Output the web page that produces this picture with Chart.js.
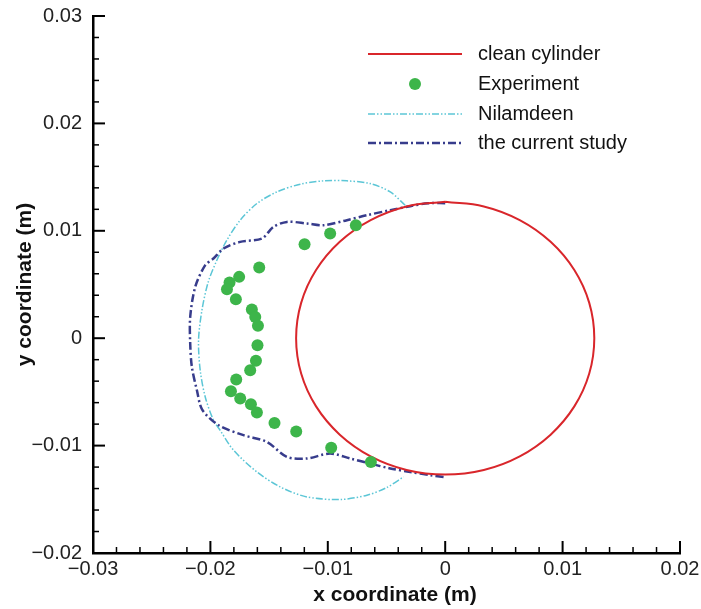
<!DOCTYPE html>
<html>
<head>
<meta charset="utf-8">
<script src="https://cdn.jsdelivr.net/npm/chart.js@4.4.0/dist/chart.umd.min.js"></script>
<style>
html,body{margin:0;padding:0;background:#fff}
#wrap{width:701px;height:609px}
</style>
</head>
<body>
<div id="wrap"><canvas id="chart" width="701" height="609"></canvas></div>
<script>
// axis ranges (m)
var xRange = [-0.03, 0.02]
var yRange = [-0.02, 0.03]

// clean cylinder outline, read every 15 deg starting at the top
var cylinderX = [0, -0.00329, -0.00635, -0.00898, -0.011, -0.01227, -0.0127, -0.01227, -0.011, -0.00898, -0.00635, -0.00329,
  0, 0.00329, 0.00635, 0.00898, 0.011, 0.01227, 0.0127, 0.01227, 0.011, 0.00898, 0.00635, 0.00329, 0]
var cylinderY = [0.0127, 0.01227, 0.011, 0.00898, 0.00635, 0.00329, 0, -0.00329, -0.00635, -0.00898, -0.011, -0.01227,
  -0.0127, -0.01227, -0.011, -0.00898, -0.00635, -0.00329, 0, 0.00329, 0.00635, 0.00898, 0.011, 0.01227, 0.0127]

// experiment ice shape
var experimentX = [-0.00761, -0.0098, -0.01198, -0.01584, -0.01755, -0.01837, -0.01859, -0.01783, -0.01647, -0.01618,
  -0.01595, -0.01599, -0.01612, -0.01661, -0.0178, -0.01825, -0.01746, -0.01655, -0.01604, -0.01454, -0.01269,
  -0.00971, -0.00633]
var experimentY = [0.01052, 0.00975, 0.00875, 0.00658, 0.00571, 0.00519, 0.00456, 0.00363, 0.00267, 0.00198,
  0.00115, -0.00065, -0.00209, -0.00298, -0.00385, -0.00493, -0.00561, -0.00615, -0.00692, -0.00789, -0.00869,
  -0.01021, -0.01152]

// Nilamdeen ice shape
var nilamdeenX = [-0.00341, -0.00468, -0.00639, -0.00837, -0.01037, -0.01235, -0.01434, -0.01604, -0.01746, -0.0186,
  -0.01945, -0.02019, -0.02072, -0.02101, -0.02087, -0.02044, -0.01974, -0.01917, -0.01803, -0.01604, -0.01405,
  -0.01178, -0.00894, -0.00667, -0.00497, -0.00355]
var nilamdeenY = [0.01238, 0.01362, 0.0144, 0.01465, 0.01465, 0.01434, 0.01362, 0.01254, 0.01099, 0.00912,
  0.00726, 0.00521, 0.00261, -0.00019, -0.00298, -0.00547, -0.00763, -0.00857, -0.01043, -0.01245, -0.01385,
  -0.01478, -0.01502, -0.01462, -0.0139, -0.01291]

// current study ice shape
var currentX = [0, -0.00145, -0.00298, -0.00468, -0.00667, -0.00837, -0.01037, -0.01178, -0.01348, -0.01463, -0.01561,
  -0.01746, -0.01888, -0.01974, -0.02044, -0.02129, -0.02172, -0.02172, -0.02158, -0.02115, -0.0207, -0.0193,
  -0.01718, -0.01519, -0.01348, -0.01178, -0.0098, -0.00809, -0.00639, -0.00468, -0.00298, -0.00128, 0]
var currentY = [0.01257, 0.01257, 0.01229, 0.01192, 0.01145, 0.01099, 0.01052, 0.01068, 0.01083, 0.01036, 0.00928,
  0.00897, 0.00835, 0.00742, 0.0068, 0.00478, 0.00198, -0.00049, -0.00267, -0.00484, -0.00665, -0.0081,
  -0.00903, -0.00966, -0.01105, -0.0112, -0.01074, -0.0112, -0.01167, -0.01213, -0.01245, -0.01276, -0.01294]

var toPoints = function(xs, ys){
  return xs.map(function(x, i){ return {x: x, y: ys[i]} })
}

var fmtTick = function(v){
  var h = Math.round(v * 100)
  if(Math.abs(v * 100 - h) > 1e-6) return ''
  if(h === 0) return '0'
  return (h < 0 ? '\u2212' : '') + (Math.abs(h) / 100).toFixed(2)
}

var isMajor = function(v){
  return Math.abs(v * 100 - Math.round(v * 100)) < 1e-6
}

// inward tick marks, like the original plot
var innerTicks = {
  id: 'innerTicks',
  afterDraw: function(chart){
    var ctx = chart.ctx
    var area = chart.chartArea
    ctx.save()
    ctx.strokeStyle = '#000'
    chart.scales.x.ticks.forEach(function(t){
      var px = chart.scales.x.getPixelForValue(t.value)
      var len = isMajor(t.value) ? 12 : 6
      ctx.lineWidth = isMajor(t.value) ? 2 : 1.5
      ctx.beginPath()
      ctx.moveTo(px, area.bottom)
      ctx.lineTo(px, area.bottom - len)
      ctx.stroke()
    })
    chart.scales.y.ticks.forEach(function(t){
      var py = chart.scales.y.getPixelForValue(t.value)
      var len = isMajor(t.value) ? 12 : 6
      ctx.lineWidth = isMajor(t.value) ? 2 : 1.5
      ctx.beginPath()
      ctx.moveTo(area.left, py)
      ctx.lineTo(area.left + len, py)
      ctx.stroke()
    })
    ctx.restore()
  }
}

// x axis title sits a little right of the plot centre in the original
var xTitle = {
  id: 'xTitle',
  afterDraw: function(chart){
    var ctx = chart.ctx
    ctx.save()
    ctx.fillStyle = '#111'
    ctx.font = 'bold 21px "Liberation Sans", Arial, sans-serif'
    ctx.textAlign = 'center'
    ctx.textBaseline = 'middle'
    ctx.fillText('x coordinate (m)', 395, 595)
    ctx.restore()
  }
}

var legendBox = {
  id: 'legendBox',
  afterDraw: function(chart){
    var ctx = chart.ctx
    var rows = [54, 84, 114, 143]
    chart.data.datasets.forEach(function(ds, i){
      var y = rows[i]
      ctx.save()
      if(ds.showLine){
        ctx.strokeStyle = ds.borderColor
        ctx.lineWidth = ds.borderWidth
        ctx.setLineDash(ds.borderDash || [])
        ctx.beginPath()
        ctx.moveTo(368, y)
        ctx.lineTo(462, y)
        ctx.stroke()
      }
      else{
        ctx.fillStyle = ds.backgroundColor
        ctx.beginPath()
        ctx.arc(415, y, ds.pointRadius, 0, Math.PI * 2)
        ctx.fill()
      }
      ctx.setLineDash([])
      ctx.fillStyle = '#111'
      ctx.font = '20px "Liberation Sans", Arial, sans-serif'
      ctx.textBaseline = 'middle'
      ctx.fillText(ds.label, 478, y)
      ctx.restore()
    })
  }
}

var tickFont = {family: '"Liberation Sans", Arial, sans-serif', size: 20}
var titleFont = {family: '"Liberation Sans", Arial, sans-serif', size: 21, weight: 'bold'}

new Chart(document.getElementById('chart'), {
  type: 'scatter',
  data: {
    datasets: [
      {
        label: 'clean cylinder',
        data: toPoints(cylinderX, cylinderY),
        showLine: true,
        tension: 0.4,
        pointRadius: 0,
        borderColor: '#d9262b',
        borderWidth: 2,
        order: 1
      },
      {
        label: 'Experiment',
        data: toPoints(experimentX, experimentY),
        pointRadius: 6,
        pointHoverRadius: 6,
        backgroundColor: '#3db54a',
        borderWidth: 0,
        order: 0
      },
      {
        label: 'Nilamdeen',
        data: toPoints(nilamdeenX, nilamdeenY),
        showLine: true,
        tension: 0.3,
        pointRadius: 0,
        borderColor: '#5cc6d6',
        borderWidth: 1.5,
        borderDash: [7, 2, 1.5, 2, 1.5, 2],
        order: 3
      },
      {
        label: 'the current study',
        data: toPoints(currentX, currentY),
        showLine: true,
        tension: 0.3,
        pointRadius: 0,
        borderColor: '#373c8c',
        borderWidth: 2.5,
        borderDash: [8, 3, 2, 3],
        order: 2
      }
    ]
  },
  options: {
    responsive: false,
    animation: false,
    layout: {padding: {top: 16, right: 21, left: 0, bottom: 0}},
    plugins: {legend: {display: false}, tooltip: {enabled: false}},
    scales: {
      x: {
        type: 'linear',
        min: xRange[0],
        max: xRange[1],
        ticks: {stepSize: 0.002, autoSkip: false, maxRotation: 0, padding: 4, font: tickFont, color: '#222', callback: fmtTick},
        grid: {display: false, drawTicks: false},
        border: {display: true, color: '#000', width: 2.5},
        title: {display: false},
        afterFit: function(s){
          s.height = 56
          s.paddingLeft = 0
          s.paddingRight = 0
        }
      },
      y: {
        type: 'linear',
        min: yRange[0],
        max: yRange[1],
        ticks: {stepSize: 0.002, autoSkip: false, padding: 11, font: tickFont, color: '#222', callback: fmtTick},
        grid: {display: false, drawTicks: false},
        border: {display: true, color: '#000', width: 2.5},
        title: {display: true, text: 'y coordinate (m)', font: titleFont, color: '#111', padding: {top: 13, bottom: 0}},
        afterFit: function(s){
          s.width = 93
          s.paddingTop = 0
          s.paddingBottom = 0
        }
      }
    }
  },
  plugins: [innerTicks, xTitle, legendBox]
})
</script>
</body>
</html>
